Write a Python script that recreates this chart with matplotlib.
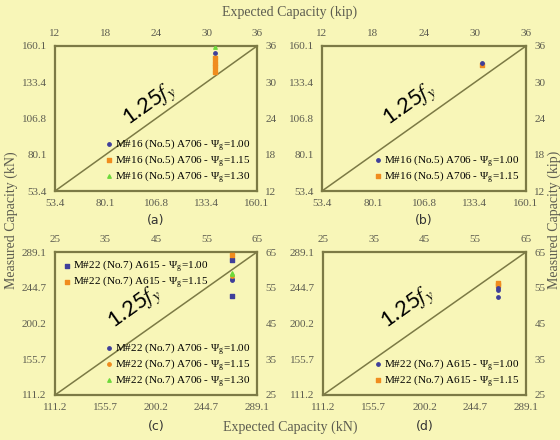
import numpy as np
import matplotlib
matplotlib.use("Agg")
import matplotlib.pyplot as plt

plt.rcParams['font.family'] = ['Liberation Serif', 'DejaVu Serif']
plt.rcParams['mathtext.fontset'] = 'stix'

# panel ranges (kN) and tick values
ticks_a = [53.4, 80.1, 106.8, 133.4, 160.1]
kip_a = [12, 18, 24, 30, 36]
ticks_c = [111.2, 155.7, 200.2, 244.7, 289.1]
kip_c = [25, 35, 45, 55, 65]

# (a) M#16 A706
a_x = 137.9
a_100 = [155.0]
a_115 = [151.3, 147.6, 144.6, 141.0]
a_130 = [159.4]

# (b) M#16 A706
b_x = 137.1
b_100 = [147.6]
b_115 = [146.4]

# (c) M#22
c_x = 267.1
c_a615_100 = [279.1, 234.4]
c_a615_115 = [285.4]
c_a706_100 = [254.3, 256.0]
c_a706_115 = [259.2]
c_a706_130 = [263.0, 261.5]

# (d) M#22 A615
d_x = 264.6
d_100 = [241.8, 244.0, 233.1]
d_115 = [250.5, 247.5]

bg = '#F8F6B8'
frame = '#7C7A45'
tickc = '#5c5c50'
blue = '#3F3F9A'
orange = '#F08C1E'
green = '#6CD93A'
ms = 6

fig = plt.figure(figsize=(5.6, 4.4), dpi=100, facecolor=bg)


def make_ax(l, t, w, h, ticks, kip):
    ax = fig.add_axes([l / 560, 1 - (t + h) / 440, w / 560, h / 440], facecolor=bg)
    lo, hi = ticks[0], ticks[-1]
    k0, k1 = kip[0], kip[-1]
    ax.set_xlim(lo, hi)
    ax.set_ylim(lo, hi)
    ax.set_xticks(ticks)
    ax.set_yticks(ticks)
    ax.set_xticklabels([f"{v:.1f}" for v in ticks])
    ax.set_yticklabels([f"{v:.1f}" for v in ticks])
    ax.tick_params(length=0, labelsize=8, colors=tickc, pad=6)
    for s in ax.spines.values():
        s.set_color(frame)
        s.set_linewidth(1.6)
    ax.plot([lo, hi], [lo, hi], color=frame, lw=1.1)

    def fwd(v):
        return k0 + (np.asarray(v) - lo) * (k1 - k0) / (hi - lo)

    def inv(v):
        return lo + (np.asarray(v) - k0) * (hi - lo) / (k1 - k0)

    top = ax.secondary_xaxis('top', functions=(fwd, inv))
    top.set_xticks(kip)
    top.set_xticklabels([str(k) for k in kip])
    right = ax.secondary_yaxis('right', functions=(fwd, inv))
    right.set_yticks(kip)
    right.set_yticklabels([str(k) for k in kip])
    for sec in (top, right):
        sec.tick_params(length=0, labelsize=8, colors=tickc, pad=6)
        for s in sec.spines.values():
            s.set_visible(False)
    return ax


def fy_label(ax, x, y):
    ax.text(x, y, r'1.25$f_y$', rotation=35.5, fontsize=16, family='Lato',
            math_fontfamily='stix', ha='center', va='center', color='black')


leg_kw = dict(frameon=False, fontsize=8, handletextpad=0.1, labelspacing=0.0,
              borderaxespad=0.15, handlelength=1.0, markerscale=1.0)

# (a)
ax = make_ax(55, 46, 202, 145, ticks_a, kip_a)
ax.scatter([a_x] * len(a_100), a_100, s=ms, marker='o', color=blue, zorder=3,
           label=r'M#16 (No.5) A706 - Ψ$_{\mathregular{g}}$=1.00')
ax.scatter([a_x] * len(a_115), a_115, s=ms, marker='s', color=orange, zorder=3,
           label=r'M#16 (No.5) A706 - Ψ$_{\mathregular{g}}$=1.15')
ax.scatter([a_x] * len(a_130), a_130, s=ms, marker='^', color=green, zorder=3,
           label=r'M#16 (No.5) A706 - Ψ$_{\mathregular{g}}$=1.30')
ax.legend(loc='lower right', **leg_kw)
fy_label(ax, 103.6, 116.5)
ax.text(0.5, -0.2, '(a)', transform=ax.transAxes, ha='center', va='center',
        fontsize=9, family='DejaVu Sans', color='#333333')

# (b)
ax = make_ax(322, 46, 204, 145, ticks_a, kip_a)
ax.scatter([b_x] * len(b_100), b_100, s=ms, marker='o', color=blue, zorder=3,
           label=r'M#16 (No.5) A706 - Ψ$_{\mathregular{g}}$=1.00')
ax.scatter([b_x] * len(b_115), b_115, s=ms, marker='s', color=orange, zorder=2,
           label=r'M#16 (No.5) A706 - Ψ$_{\mathregular{g}}$=1.15')
ax.legend(loc='lower right', **leg_kw)
fy_label(ax, 99.4, 116.5)
ax.text(0.5, -0.2, '(b)', transform=ax.transAxes, ha='center', va='center',
        fontsize=9, family='DejaVu Sans', color='#333333')

# (c)
ax = make_ax(55, 252, 202, 143, ticks_c, kip_c)
h1 = ax.scatter([c_x] * len(c_a615_100), c_a615_100, s=ms, marker='s', color=blue, zorder=3,
                label=r'M#22 (No.7) A615 - Ψ$_{\mathregular{g}}$=1.00')
h2 = ax.scatter([c_x] * len(c_a615_115), c_a615_115, s=ms, marker='s', color=orange, zorder=3,
                label=r'M#22 (No.7) A615 - Ψ$_{\mathregular{g}}$=1.15')
h3 = ax.scatter([c_x] * len(c_a706_100), c_a706_100, s=ms, marker='o', color=blue, zorder=3,
                label=r'M#22 (No.7) A706 - Ψ$_{\mathregular{g}}$=1.00')
h4 = ax.scatter([c_x] * len(c_a706_115), c_a706_115, s=ms, marker='o', color=orange, zorder=3,
                label=r'M#22 (No.7) A706 - Ψ$_{\mathregular{g}}$=1.15')
h5 = ax.scatter([c_x] * len(c_a706_130), c_a706_130, s=ms, marker='^', color=green, zorder=3,
                label=r'M#22 (No.7) A706 - Ψ$_{\mathregular{g}}$=1.30')
leg1 = ax.legend(handles=[h1, h2], loc='upper left', **leg_kw)
ax.add_artist(leg1)
ax.legend(handles=[h3, h4, h5], loc='lower right', **leg_kw)
fy_label(ax, 181.7, 220.0)
ax.text(0.5, -0.22, '(c)', transform=ax.transAxes, ha='center', va='center',
        fontsize=9, family='DejaVu Sans', color='#333333')

# (d)
ax = make_ax(323, 252, 203, 143, ticks_c, kip_c)
ax.scatter([d_x] * len(d_115), d_115, s=ms, marker='s', color=orange, zorder=2,
           label=r'M#22 (No.7) A615 - Ψ$_{\mathregular{g}}$=1.15')
ax.scatter([d_x] * len(d_100), d_100, s=ms, marker='o', color=blue, zorder=3,
           label=r'M#22 (No.7) A615 - Ψ$_{\mathregular{g}}$=1.00')
hs, ls = ax.get_legend_handles_labels()
ax.legend(hs[::-1], ls[::-1], loc='lower right', **leg_kw)
fy_label(ax, 185.7, 220.0)
ax.text(0.5, -0.22, '(d)', transform=ax.transAxes, ha='center', va='center',
        fontsize=9, family='DejaVu Sans', color='#333333')

# shared axis titles
fig.text(290 / 560, 1 - 12 / 440, 'Expected Capacity (kip)', ha='center', va='center',
         fontsize=10, color=tickc)
fig.text(290 / 560, 1 - 427 / 440, 'Expected Capacity (kN)', ha='center', va='center',
         fontsize=10, color=tickc)
fig.text(11 / 560, 0.5, 'Measured Capacity (kN)', rotation=90, ha='center', va='center',
         fontsize=10, color=tickc)
fig.text(554 / 560, 0.5, 'Measured Capacity (kip)', rotation=90, ha='center', va='center',
         fontsize=10, color=tickc)

fig.savefig('out.png', dpi=100, facecolor=bg)
